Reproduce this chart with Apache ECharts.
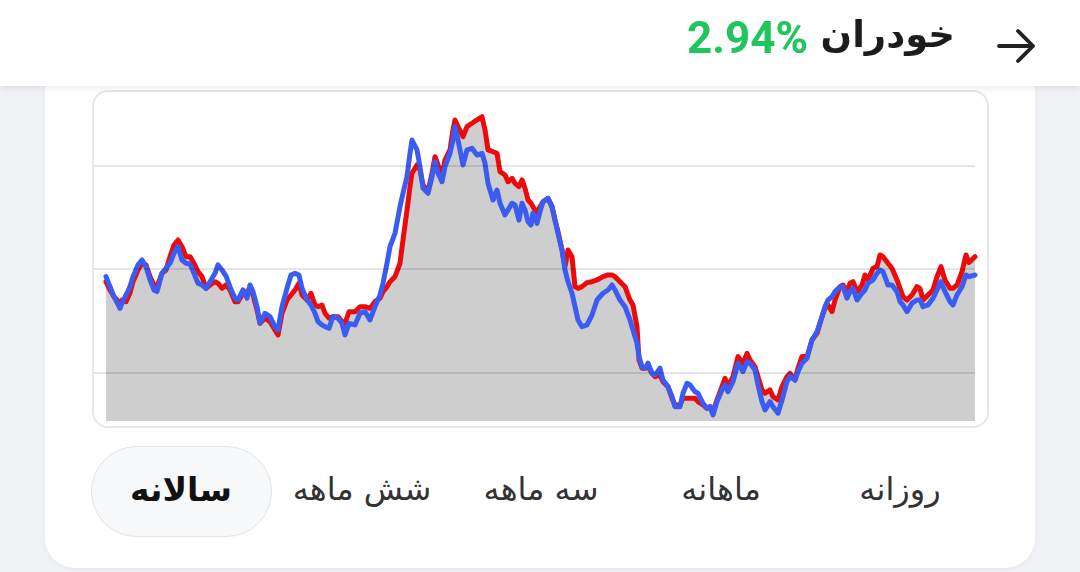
<!DOCTYPE html>
<html lang="fa">
<head>
<meta charset="utf-8">
<title>خودران</title>
<script src="https://cdn.jsdelivr.net/npm/echarts@6/dist/echarts.min.js"></script>
<style>
  html, body { margin: 0; padding: 0; }
  body {
    width: 1080px;
    height: 572px;
    overflow: hidden;
    position: relative;
    background: #eff1f4;
    font-family: 'DejaVu Sans', sans-serif;
  }
  .header {
    position: absolute;
    left: 0; top: 0;
    width: 1080px; height: 86px;
    background: #fff;
    box-shadow: 0 3px 6px rgba(0, 0, 0, 0.07);
    z-index: 5;
  }
  .title {
    position: absolute;
    right: 125px; top: 13px;
    font-size: 37px;
    font-weight: bold;
    color: #1c1c1c;
    direction: rtl;
  }
  .percent {
    position: absolute;
    right: 272px; top: 12px;
    font-family: Roboto, sans-serif;
    font-size: 44px;
    font-weight: bold;
    color: #1ec65c;
  }
  .arrow { position: absolute; left: 994px; top: 26px; }
  .card {
    position: absolute;
    left: 45px; top: 60px;
    width: 990px; height: 508px;
    background: #fff;
    border-radius: 30px;
    box-shadow: 0 1px 4px rgba(0, 0, 0, 0.05);
  }
  #chart, .chart-border {
    position: absolute;
    left: 92px; top: 90px;
    width: 897px; height: 338px;
  }
  .chart-border {
    box-sizing: border-box;
    border: 2px solid #e7e7e7;
    border-radius: 16px;
    pointer-events: none;
  }
  .pill {
    position: absolute;
    left: 91px; top: 446px;
    width: 181px; height: 91px;
    box-sizing: border-box;
    background: #f7f8fa;
    border: 1.5px solid #e1e3e6;
    border-radius: 46px;
  }
  .tab {
    position: absolute;
    top: 489px;
    transform: translate(-50%, -50%);
    font-size: 32px;
    color: #333;
    direction: rtl;
    white-space: nowrap;
  }
  .tab.active { font-weight: bold; font-size: 33px; color: #111; }
</style>
</head>
<body>
<div class="card"></div>
<div class="header">
  <span class="percent">2.94%</span>
  <span class="title">خودران</span>
  <svg class="arrow" width="44" height="40" viewBox="0 0 44 40">
    <path d="M5 20 H39 M24 5 L39 20 L24 35" fill="none" stroke="#222" stroke-width="3.8" stroke-linecap="round" stroke-linejoin="round"/>
  </svg>
</div>

<div id="chart"></div>
<div class="chart-border"></div>

<div class="pill"></div>
<span class="tab active" style="left:181px">سالانه</span>
<span class="tab" style="left:362px">شش ماهه</span>
<span class="tab" style="left:541px">سه ماهه</span>
<span class="tab" style="left:721px">ماهانه</span>
<span class="tab" style="left:900px">روزانه</span>

<script>
// position along the year (trading-day scale)
const days = [
  0, 4, 8, 14, 16, 20, 22, 24, 27, 32,
  36, 40, 44, 48, 51, 56, 60, 64, 68, 72,
  76, 80, 84, 88, 92, 96, 100, 104, 109, 112,
  116, 120, 124, 129, 132, 137, 141, 144, 147, 151,
  154, 159, 164, 169, 172, 176, 181, 185, 189, 193,
  196, 201, 205, 209, 212, 216, 219, 223, 227, 232,
  236, 239, 243, 249, 254, 259, 264, 269, 274, 277,
  281, 284, 289, 294, 297, 301, 304, 306, 311, 314,
  317, 322, 326, 329, 332, 336, 339, 344, 347, 349,
  352, 357, 361, 366, 371, 376, 379, 382, 387, 391,
  394, 399, 402, 406, 409, 413, 416, 419, 422, 425,
  427, 431, 434, 437, 442, 446, 449, 452, 456, 459,
  462, 466, 469, 472, 476, 481, 486, 491, 497, 502,
  506, 509, 514, 519, 524, 527, 531, 533, 536, 539,
  542, 546, 549, 554, 557, 562, 566, 569, 574, 577,
  581, 584, 589, 592, 597, 601, 604, 607, 611, 616,
  619, 622, 627, 632, 637, 641, 644, 649, 652, 656,
  659, 664, 667, 672, 676, 681, 684, 689, 692, 696,
  701, 706, 711, 716, 719, 722, 726, 729, 734, 737,
  741, 744, 747, 751, 756, 759, 762, 767, 771, 774,
  777, 782, 786, 791, 794, 797, 801, 806, 811, 814,
  817, 822, 827, 831, 835, 839, 844, 847, 851, 856,
  860, 863, 869
]

// red series (filled grey underneath)
const redValues = [
  187.9, 179.9, 173.4, 167.3, 170.2, 168.6, 167.1, 177.0, 187.9, 199.2,
  206.0, 204.1, 192.8, 184.7, 183.1, 196.0, 199.2, 212.1, 223.4, 228.2,
  221.7, 212.1, 212.1, 205.7, 197.6, 192.8, 181.5, 184.7, 187.9, 186.4,
  181.5, 184.7, 179.9, 168.6, 168.6, 176.7, 178.3, 181.5, 175.1, 160.6,
  147.7, 152.6, 149.3, 141.3, 136.4, 157.4, 170.2, 175.1, 179.9, 186.4,
  175.1, 170.2, 176.7, 165.4, 163.8, 165.4, 157.4, 152.6, 154.1, 154.1,
  149.3, 147.7, 158.9, 158.9, 163.8, 163.8, 162.2, 168.6, 171.9, 178.3,
  183.1, 187.9, 192.8, 205.7, 228.2, 257.2, 279.7, 292.7, 300.7, 295.8,
  281.4, 274.9, 292.7, 308.7, 300.7, 289.4, 305.5, 315.2, 334.5, 344.2,
  337.7, 328.0, 337.7, 341.0, 344.2, 347.3, 334.5, 315.2, 313.5, 312.0,
  294.2, 291.0, 284.5, 287.8, 283.0, 279.7, 286.2, 278.2, 266.9, 263.7,
  260.4, 254.0, 260.4, 265.2, 268.5, 260.4, 247.5, 236.2, 218.6, 202.4,
  218.6, 212.1, 183.1, 181.5, 183.1, 187.0, 187.9, 189.6, 192.8, 194.4,
  194.4, 192.8, 187.9, 183.1, 170.2, 165.4, 144.4, 112.3, 104.3, 104.3,
  105.8, 99.4, 96.1, 97.8, 91.3, 86.5, 75.3, 68.8, 68.8, 75.3,
  75.3, 75.3, 75.3, 72.0, 68.8, 65.6, 67.1, 62.3, 73.6, 86.5,
  94.6, 86.5, 96.1, 115.5, 109.1, 118.7, 112.3, 105.8, 96.1, 83.3,
  80.1, 83.3, 76.8, 73.6, 86.5, 96.1, 99.4, 92.9, 104.3, 115.5,
  115.5, 131.6, 138.1, 154.1, 162.2, 165.4, 158.9, 170.2, 183.1, 184.7,
  178.3, 186.4, 187.9, 178.3, 184.7, 194.4, 189.6, 200.9, 202.4, 213.7,
  212.1, 205.7, 200.9, 189.6, 181.5, 173.4, 170.2, 175.1, 183.1, 181.5,
  170.2, 175.1, 179.9, 192.8, 202.4, 189.6, 181.5, 181.5, 184.7, 197.6,
  213.7, 206.5, 212.1
]

// blue series
const blueValues = [
  192.8, 183.1, 173.4, 162.2, 167.3, 175.1, 178.9, 183.1, 192.8, 204.1,
  208.9, 202.4, 189.6, 179.9, 178.3, 196.0, 200.9, 205.7, 215.4, 221.7,
  208.9, 205.7, 205.0, 196.0, 186.4, 184.7, 181.5, 187.9, 196.0, 204.1,
  199.2, 193.4, 182.8, 171.9, 170.2, 179.9, 171.9, 184.7, 178.3, 163.8,
  147.7, 157.4, 154.1, 144.4, 141.3, 163.8, 181.5, 194.4, 196.0, 194.4,
  181.5, 170.2, 165.4, 157.4, 149.3, 146.1, 144.4, 142.9, 154.1, 152.6,
  147.7, 136.4, 147.7, 146.1, 157.4, 158.9, 150.9, 163.8, 175.1, 186.4,
  205.7, 221.7, 234.7, 260.4, 273.3, 289.4, 312.0, 324.8, 315.2, 299.0,
  278.2, 273.3, 289.4, 303.9, 292.7, 284.5, 299.0, 312.0, 324.8, 337.7,
  324.8, 300.7, 315.2, 316.8, 310.3, 312.0, 302.3, 283.0, 266.9, 276.5,
  263.7, 252.4, 257.2, 263.7, 262.0, 247.5, 263.7, 257.2, 245.9, 242.7,
  254.0, 244.3, 255.6, 265.2, 268.5, 260.4, 247.5, 234.7, 218.6, 199.2,
  187.9, 176.7, 163.8, 150.9, 144.4, 146.1, 155.7, 170.2, 176.7, 179.9,
  184.7, 179.9, 170.2, 163.8, 150.9, 141.3, 128.4, 115.5, 105.8, 104.3,
  109.1, 99.4, 97.8, 104.3, 92.9, 86.5, 76.8, 67.1, 67.1, 80.1,
  89.8, 88.1, 81.6, 80.1, 70.4, 65.6, 67.1, 59.1, 72.0, 83.3,
  88.1, 81.6, 91.3, 109.1, 101.0, 110.6, 109.1, 102.6, 88.1, 72.0,
  64.0, 72.0, 67.1, 60.7, 73.6, 91.3, 96.1, 92.9, 101.0, 109.1,
  113.9, 131.6, 139.6, 154.1, 163.8, 170.2, 173.4, 178.3, 183.1, 183.1,
  171.9, 178.3, 181.5, 170.2, 176.7, 179.9, 186.4, 189.6, 196.0, 199.2,
  197.6, 184.7, 184.7, 178.3, 168.6, 165.4, 158.9, 167.1, 170.2, 170.2,
  163.8, 165.4, 171.9, 179.9, 187.9, 178.3, 168.6, 165.4, 175.1, 183.1,
  194.4, 192.8, 194.4
]

// horizontal guide lines
const gridValues = [100, 200, 300]

const redData = days.map((d, i) => [d, redValues[i]])
const blueData = days.map((d, i) => [d, blueValues[i]])

const myChart = echarts.init(document.getElementById('chart'))
const option = {
  animation: false,
  grid: {
    left: 0,
    right: 14,
    top: 3.25,
    bottom: 6.7
  },
  xAxis: {
    type: 'value',
    min: -14,
    max: 869,
    show: false
  },
  yAxis: {
    type: 'value',
    min: 53,
    max: 370,
    show: false,
    splitLine: { show: false }
  },
  series: [
    {
      // grey fill under the red line
      type: 'line',
      data: redData,
      symbol: 'none',
      silent: true,
      z: 1,
      lineStyle: { width: 0 },
      areaStyle: { color: '#cecece', opacity: 1, origin: 'start' }
    },
    {
      // guide lines, above the fill and below the price lines
      type: 'line',
      data: [],
      symbol: 'none',
      silent: true,
      z: 2,
      markLine: {
        silent: true,
        symbol: 'none',
        label: { show: false },
        lineStyle: { color: 'rgba(0,0,0,0.1)', width: 2, type: 'solid' },
        data: gridValues.map(v => ({ yAxis: v }))
      }
    },
    {
      type: 'line',
      data: redData,
      symbol: 'none',
      z: 3,
      lineStyle: { color: '#ec0a0a', width: 5, join: 'round', cap: 'round' }
    },
    {
      type: 'line',
      data: blueData,
      symbol: 'none',
      z: 4,
      lineStyle: { color: '#3a5cf2', width: 5, join: 'round', cap: 'round' }
    }
  ]
}
myChart.setOption(option)
</script>
</body>
</html>
